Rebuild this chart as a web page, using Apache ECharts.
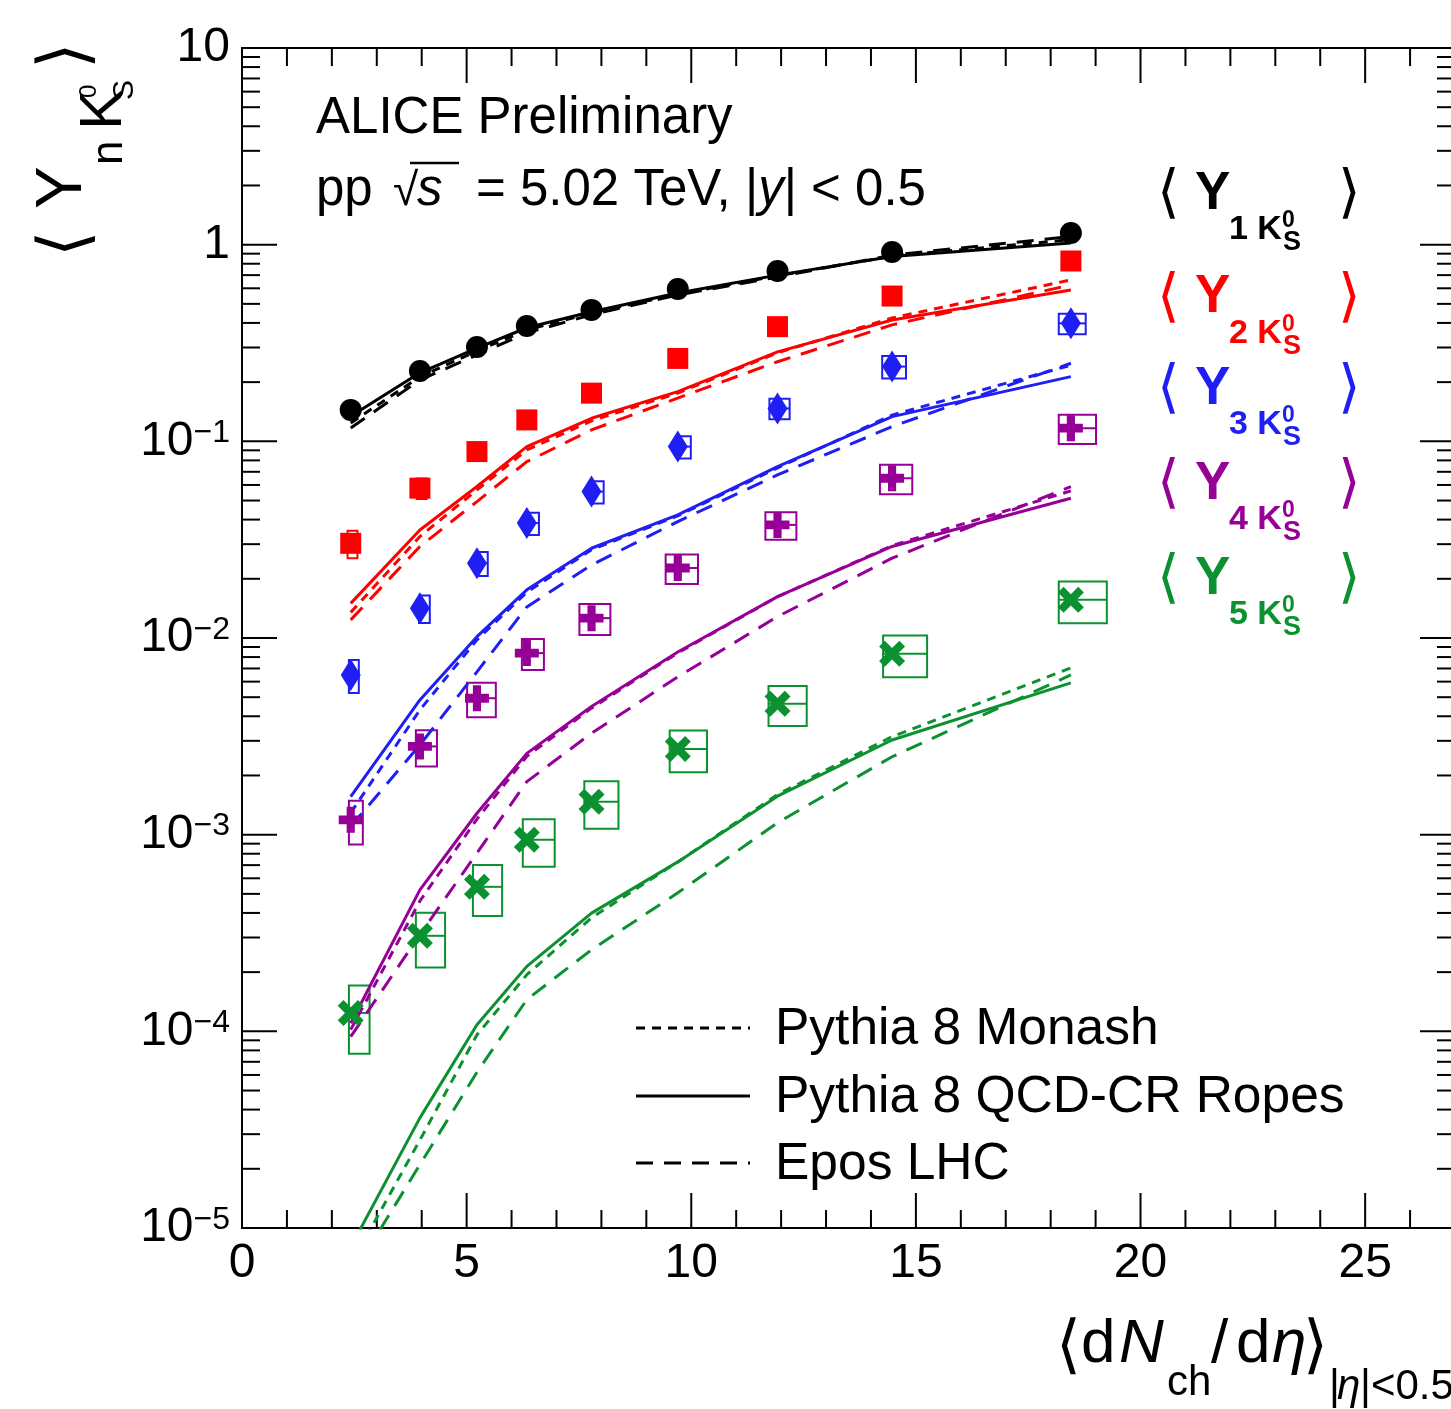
<!DOCTYPE html>
<html><head><meta charset="utf-8">
<script src="https://cdn.jsdelivr.net/npm/echarts@6/dist/echarts.min.js"></script>
<style>html,body{margin:0;padding:0;background:#fff}#c{width:1451px;height:1409px}</style>
</head><body><div id="c"></div>
<script>
// ---------------- data ----------------
const multiplicity = [2.42, 3.96, 5.23, 6.34, 7.78, 9.70, 11.92, 14.47, 18.45];

const yieldY1 = [0.1445, 0.228, 0.302, 0.386, 0.466, 0.595, 0.735, 0.918, 1.147];
const yieldY2 = [0.0303, 0.0578, 0.0887, 0.1285, 0.1758, 0.264, 0.383, 0.548, 0.826];
const yieldY3 = [0.00649, 0.01418, 0.0240, 0.0384, 0.0555, 0.0940, 0.147, 0.240, 0.398];
const yieldY4 = [0.00119, 0.00281, 0.00494, 0.00838, 0.01262, 0.0227, 0.0376, 0.0649, 0.1167];
const yieldY5 = [1.24e-4, 3.06e-4, 5.43e-4, 9.42e-4, 1.47e-3, 2.73e-3, 4.63e-3, 8.31e-3, 0.01563];

// relative systematic uncertainty (boxes)
const systRelY2 = [0.16, 0.12, 0.08, 0.07, 0.07, 0.07, 0.07, 0.07, 0.07];
const systRelY3 = [0.19, 0.16, 0.14, 0.13, 0.13, 0.13, 0.12, 0.13, 0.12];
const systRelY4 = [0.25, 0.21, 0.20, 0.18, 0.18, 0.17, 0.16, 0.17, 0.17];
const systRelY5 = [0.38, 0.31, 0.29, 0.27, 0.27, 0.24, 0.23, 0.24, 0.24];
// box extent in multiplicity (left / right of the point)
const systXLowY2  = [0.07, 0.07, 0.07, 0.07, 0.07, 0.07, 0.07, 0.07, 0.07];
const systXHighY2 = [0.15, 0.15, 0.15, 0.15, 0.15, 0.15, 0.15, 0.15, 0.15];
const systXLowY3  = [0.04, 0.02, 0.00, 0.00, 0.00, 0.00, 0.18, 0.22, 0.27];
const systXHighY3 = [0.18, 0.22, 0.24, 0.27, 0.27, 0.29, 0.27, 0.31, 0.33];
const systXLowY4  = [0.04, 0.09, 0.22, 0.11, 0.27, 0.27, 0.27, 0.27, 0.27];
const systXHighY4 = [0.27, 0.38, 0.42, 0.38, 0.42, 0.45, 0.42, 0.45, 0.56];
const systXLowY5  = [0.04, 0.09, 0.09, 0.09, 0.16, 0.18, 0.20, 0.20, 0.27];
const systXHighY5 = [0.42, 0.56, 0.56, 0.62, 0.60, 0.65, 0.65, 0.78, 0.80];

// models
const monashY1 = [0.124, 0.213, 0.288, 0.368, 0.45, 0.56, 0.695, 0.875, 1.06];
const monashY2 = [0.0135, 0.0328, 0.0566, 0.0904, 0.127, 0.176, 0.282, 0.424, 0.662];
const monashY3 = [1.29e-3, 4.31e-3, 9.78e-3, 0.0171, 0.0281, 0.0418, 0.0733, 0.136, 0.244];
const monashY4 = [1.02e-4, 4.6e-4, 1.2e-3, 2.5e-3, 4.4e-3, 8.4e-3, 0.0162, 0.0295, 0.056];
const monashY5 = [6.5e-6, 2.8e-5, 9.6e-5, 1.94e-4, 3.78e-4, 7.27e-4, 1.6e-3, 3.15e-3, 7.05e-3];

const ropesY1 = [0.134, 0.223, 0.298, 0.378, 0.456, 0.568, 0.70, 0.87, 1.02];
const ropesY2 = [0.0150, 0.0354, 0.0589, 0.094, 0.131, 0.179, 0.285, 0.414, 0.588];
const ropesY3 = [1.56e-3, 4.84e-3, 0.01016, 0.01758, 0.0286, 0.0423, 0.0744, 0.1335, 0.2133];
const ropesY4 = [1.10e-4, 5.24e-4, 1.285e-3, 2.59e-3, 4.48e-3, 8.49e-3, 0.01623, 0.0292, 0.0514];
const ropesY5 = [8.0e-6, 3.63e-5, 1.08e-4, 2.14e-4, 3.99e-4, 7.27e-4, 1.57e-3, 3.03e-3, 5.91e-3];

const eposY1 = [0.117, 0.205, 0.275, 0.356, 0.44, 0.555, 0.685, 0.885, 1.10];
const eposY2 = [0.01236, 0.0292, 0.0494, 0.0788, 0.1143, 0.166, 0.254, 0.391, 0.624];
const eposY3 = [1.10e-3, 2.86e-3, 6.73e-3, 0.01439, 0.0235, 0.0391, 0.0675, 0.1188, 0.2495];
const eposY4 = [9.4e-5, 3.1e-4, 8.07e-4, 1.86e-3, 3.28e-3, 6.34e-3, 0.01285, 0.02546, 0.0589];
const eposY5 = [5.6e-6, 2.1e-5, 6.2e-5, 1.45e-4, 2.6e-4, 5.06e-4, 1.15e-3, 2.49e-3, 6.49e-3];

const modelNames = ['Pythia 8 Monash', 'Pythia 8 QCD-CR Ropes', 'Epos LHC'];
const speciesIndex = ['1', '2', '3', '4', '5'];

const xMajorTicks = [0, 5, 10, 15, 20, 25];
const yTickExponents = [-5, -4, -3, -2, -1, 0, 1];

// ---------------- styling ----------------
const FONT = 'Liberation Sans, Arial, Helvetica, sans-serif';
const BFONT = 'DejaVu Sans, Liberation Sans, sans-serif';
const X_MIN = 0, X_MAX = 27, Y_MIN = 1e-5, Y_MAX = 10;
const COLORS = ['#000000', '#ff0000', '#1e1ef5', '#960096', '#0c9130'];
const PLUS = 'path://M3.3,0 H6.7 V3.3 H10 V6.7 H6.7 V10 H3.3 V6.7 H0 V3.3 H3.3 Z';
const XMARK = 'path://M0,2.2 L2.2,0 L5,2.8 L7.8,0 L10,2.2 L7.2,5 L10,7.8 L7.8,10 L5,7.2 L2.2,10 L0,7.8 L2.8,5 Z';
const DASH = {monash: [9, 7], ropes: 'solid', epos: [17, 11]};
const LEGEND_DASH = {monash: [9, 7], ropes: null, epos: [17, 11]};

const species = [
  {data: yieldY1, monash: monashY1, ropes: ropesY1, epos: eposY1, symbol: 'circle', size: 22},
  {data: yieldY2, monash: monashY2, ropes: ropesY2, epos: eposY2, symbol: 'rect', size: 21, rel: systRelY2, xlo: systXLowY2, xhi: systXHighY2},
  {data: yieldY3, monash: monashY3, ropes: ropesY3, epos: eposY3, symbol: 'diamond', size: [20, 32], rel: systRelY3, xlo: systXLowY3, xhi: systXHighY3},
  {data: yieldY4, monash: monashY4, ropes: ropesY4, epos: eposY4, symbol: PLUS, size: [24, 26], rel: systRelY4, xlo: systXLowY4, xhi: systXHighY4},
  {data: yieldY5, monash: monashY5, ropes: ropesY5, epos: eposY5, symbol: XMARK, size: [26, 26], rel: systRelY5, xlo: systXLowY5, xhi: systXHighY5}
];

const series = [];

// frame ticks (x: bottom + top)
const xTickData = [];
for (let v = 0; v <= 26; v++) xTickData.push([v, 1, xMajorTicks.indexOf(v) >= 0 ? 1 : 0]);
series.push({
  type: 'custom', silent: true, z: 1, data: xTickData, encode: {x: 0, y: 1},
  renderItem: function (params, api) {
    const v = api.value(0), major = api.value(2);
    const len = major ? 35 : 18;
    const b = api.coord([v, Y_MIN]), t = api.coord([v, Y_MAX]);
    return {type: 'group', children: [
      {type: 'line', shape: {x1: b[0], y1: b[1], x2: b[0], y2: b[1] - len}, style: {stroke: '#000', lineWidth: 2}},
      {type: 'line', shape: {x1: t[0], y1: t[1], x2: t[0], y2: t[1] + len}, style: {stroke: '#000', lineWidth: 2}}
    ]};
  }
});
// frame ticks (y: left + right)
const yTickData = [];
for (let e = -5; e <= 0; e++) {
  for (let m = 1; m <= 9; m++) yTickData.push([1, m * Math.pow(10, e), m === 1 ? 1 : 0]);
}
yTickData.push([1, 10, 1]);
series.push({
  type: 'custom', silent: true, z: 1, data: yTickData, encode: {x: 0, y: 1},
  renderItem: function (params, api) {
    const v = api.value(1), major = api.value(2);
    const len = major ? 35 : 18;
    const l = api.coord([X_MIN, v]), r = api.coord([X_MAX, v]);
    return {type: 'group', children: [
      {type: 'line', shape: {x1: l[0], y1: l[1], x2: l[0] + len, y2: l[1]}, style: {stroke: '#000', lineWidth: 2}},
      {type: 'line', shape: {x1: r[0], y1: r[1], x2: r[0] - len, y2: r[1]}, style: {stroke: '#000', lineWidth: 2}}
    ]};
  }
});

species.forEach(function (sp, k) {
  const color = COLORS[k];
  if (sp.rel) {
    series.push({
      type: 'custom', silent: true, z: 2,
      data: multiplicity.map(function (x, i) {
        return [x, sp.data[i], x - sp.xlo[i], x + sp.xhi[i], sp.data[i] * (1 - sp.rel[i]), sp.data[i] * (1 + sp.rel[i])];
      }),
      encode: {x: 0, y: 1},
      renderItem: function (params, api) {
        const tl = api.coord([api.value(2), api.value(5)]);
        const br = api.coord([api.value(3), api.value(4)]);
        const ml = api.coord([api.value(2), api.value(1)]);
        const mr = api.coord([api.value(3), api.value(1)]);
        return {type: 'group', children: [
          {type: 'rect', shape: {x: tl[0], y: tl[1], width: br[0] - tl[0], height: br[1] - tl[1]}, style: {fill: 'none', stroke: color, lineWidth: 2}},
          {type: 'line', shape: {x1: ml[0], y1: ml[1], x2: mr[0], y2: mr[1]}, style: {stroke: color, lineWidth: 2}}
        ]};
      }
    });
  }
  ['monash', 'ropes', 'epos'].forEach(function (m) {
    series.push({
      type: 'line', name: 'Y' + speciesIndex[k] + ' ' + m, silent: true, z: 3, clip: true,
      symbol: 'none',
      data: multiplicity.map(function (x, i) { return [x, sp[m][i]]; }),
      lineStyle: {color: color, width: 3, type: DASH[m]}
    });
  });
  series.push({
    type: 'scatter', silent: true, z: 5,
    symbol: sp.symbol, symbolSize: sp.size,
    data: multiplicity.map(function (x, i) { return [x, sp.data[i]]; }),
    itemStyle: {color: color, opacity: 1}
  });
});

function yLabel(v) {
  const e = Math.round(Math.log10(v));
  if (yTickExponents.indexOf(e) < 0) return '';
  if (e === 0) return '{p|1}';
  if (e === 1) return '{p|10}';
  return '{b|10}{e|\u2212' + (-e) + '}';
}

function txt(x, y, text, size, extra, color) {
  const s = {text: text, fontSize: size, fontFamily: FONT, fill: color || '#000', align: 'left', verticalAlign: 'middle', textAlign: 'left', textVerticalAlign: 'middle'};
  if (extra) Object.assign(s, extra);
  return {type: 'text', x: x, y: y, style: s};
}

function speciesLabel(k) {
  const rowCenters = [194, 297.5, 389, 484, 579];
  const cy = rowCenters[k];
  const c = COLORS[k];
  return {type: 'group', children: [
    txt(1157, cy + 2, '\u27E8', 58, {fontFamily: BFONT, fontWeight: 'lighter'}, c),
    txt(1195, cy, 'Y', 53, {fontWeight: 'bold'}, c),
    txt(1229, cy + 36, speciesIndex[k] + ' K', 34, {fontWeight: 'bold'}, c),
    txt(1282, cy + 27, '0', 23, {fontWeight: 'bold'}, c),
    txt(1283, cy + 49, 'S', 27, {fontWeight: 'bold'}, c),
    txt(1338, cy + 2, '\u27E9', 58, {fontFamily: BFONT, fontWeight: 'lighter'}, c)
  ]};
}

const graphics = [
  txt(316, 119, 'ALICE Preliminary', 51),
  txt(316, 191, 'pp', 51),
  txt(393, 192, '\u221A', 46),
  {type: 'line', shape: {x1: 410, y1: 163, x2: 459, y2: 163}, style: {stroke: '#000', lineWidth: 2.5}},
  txt(417, 191, 's', 51, {fontStyle: 'italic'}),
  {type: 'text', x: 476, y: 191, style: {
    text: '{a|= 5.02 TeV, |}{i|y}{a|| < 0.5}',
    fontFamily: FONT, fontSize: 51, fill: '#000', align: 'left', verticalAlign: 'middle', textAlign: 'left', textVerticalAlign: 'middle',
    rich: {
      a: {fontSize: 51, fontFamily: FONT, fill: '#000'},
      i: {fontSize: 51, fontFamily: FONT, fontStyle: 'italic', fill: '#000'}
    }}},
  // y-axis title (rotated)
  {type: 'group', x: 39, y: 247, rotation: Math.PI / 2, children: [
    txt(-10, 29, '\u27E8', 68, {fontFamily: BFONT}),
    txt(38, 24, 'Y', 64),
    txt(82, 71, 'n', 44),
    txt(117, 65, 'K', 60),
    txt(149, 50, '0', 24),
    txt(147, 86, 'S', 30),
    txt(178, 29, '\u27E9', 68, {fontFamily: BFONT})
  ]},
  // x-axis title
  txt(1056, 1349, '\u27E8', 64, {fontFamily: BFONT}),
  txt(1081, 1345, 'd', 62),
  txt(1119, 1345, 'N', 62, {fontStyle: 'italic'}),
  txt(1167, 1383, 'ch', 42),
  txt(1211, 1345, '/', 62),
  txt(1236, 1345, 'd', 62),
  txt(1272, 1345, '\u03B7', 62, {fontStyle: 'italic'}),
  txt(1303, 1349, '\u27E9', 64, {fontFamily: BFONT}),
  txt(1329, 1387, '|', 42),
  txt(1337, 1387, '\u03B7', 42, {fontStyle: 'italic'}),
  txt(1360, 1387, '|<0.5', 42)
];
for (let k = 0; k < 5; k++) graphics.push(speciesLabel(k));

// model legend
const legendRows = [1028, 1096, 1163];
['monash', 'ropes', 'epos'].forEach(function (m, i) {
  const y = legendRows[i];
  const st = {stroke: '#000', lineWidth: 3};
  if (LEGEND_DASH[m]) st.lineDash = LEGEND_DASH[m];
  graphics.push({type: 'line', shape: {x1: 636, y1: y, x2: 750, y2: y}, style: st});
  graphics.push(txt(775, y + 2, modelNames[i], 51.5));
});

const option = {
  animation: false,
  backgroundColor: '#ffffff',
  grid: {left: 242, top: 48, right: -4, bottom: 181, show: true, borderColor: '#000', borderWidth: 2,
    backgroundColor: 'transparent', containLabel: false, outerBoundsMode: 'none'},
  xAxis: {
    type: 'value', min: X_MIN, max: X_MAX, interval: 5,
    axisLine: {show: false}, axisTick: {show: false}, splitLine: {show: false}, minorTick: {show: false},
    axisLabel: {fontSize: 48, fontFamily: FONT, color: '#000', margin: 12, showMaxLabel: false,
      formatter: function (v) { return xMajorTicks.indexOf(v) >= 0 ? String(v) : ''; }}
  },
  yAxis: {
    type: 'log', logBase: 10, min: Y_MIN, max: Y_MAX, splitNumber: 6,
    axisLine: {show: false}, axisTick: {show: false}, splitLine: {show: false},
    axisLabel: {margin: 12, formatter: yLabel, color: '#000',
      rich: {
        p: {fontSize: 48, fontFamily: FONT, color: '#000'},
        b: {fontSize: 48, lineHeight: 48, fontFamily: FONT, color: '#000', verticalAlign: 'bottom', padding: [14, 0, 0, 0]},
        e: {fontSize: 32, lineHeight: 32, fontFamily: FONT, color: '#000', verticalAlign: 'top'}
      }}
  },
  graphic: graphics,
  series: series
};

const chart = echarts.init(document.getElementById('c'), null, {renderer: 'canvas', width: 1451, height: 1409});
chart.setOption(option);
</script></body></html>
